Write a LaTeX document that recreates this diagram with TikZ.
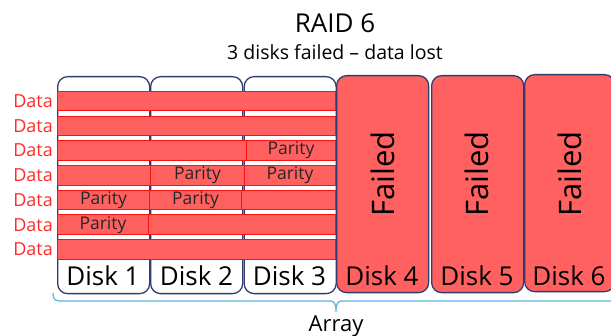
\documentclass[tikz,border=0pt]{standalone}
\usepackage{fontspec}
\setmainfont{Open Sans}
\definecolor{redfill}{HTML}{FF6161}
\definecolor{redline}{HTML}{FF1010}
\definecolor{navy}{HTML}{2F3D6E}
\definecolor{bracecol}{HTML}{5AB4E3}
\definecolor{datared}{HTML}{FF2A2A}
\begin{document}
\begin{tikzpicture}[x=1pt,y=-1pt,
  disk/.style={draw=navy, line width=1.3pt, rounded corners=10pt, minimum width=92pt, minimum height=217pt, inner sep=0pt, anchor=north west},
  okdisk/.style={disk, fill=white},
  faildisk/.style={disk, fill=redfill},
  stripe/.style={draw=redline, line width=0.9pt, fill=redfill, minimum height=19.5pt, inner sep=0pt, anchor=north west, font=\fontsize{17.5}{17.5}\selectfont, text=black!85},
  datalbl/.style={anchor=east, inner sep=0pt, text=datared, font=\fontsize{18}{18}\selectfont},
  disklbl/.style={anchor=base, inner sep=0pt, font=\fontsize{26}{26}\selectfont},
  faillbl/.style={rotate=90, inner sep=0pt, font=\fontsize{31}{31}\selectfont},
  brace/.style={draw=bracecol, line width=1.2pt}]
\useasboundingbox (0,0) rectangle (611,336);
% title
\node[anchor=base, inner sep=0pt, font=\fontsize{26}{26}\selectfont] (title) at (335,33) {RAID 6};
\node[anchor=base, inner sep=0pt, font=\fontsize{19.5}{19.5}\selectfont] (sub) at (335,60) {3 disks failed -- data lost};
% disks
\node[okdisk] (d1) at (57,76) {};
\node[okdisk] (d2) at (150,76) {};
\node[okdisk] (d3) at (243.5,76) {};
\node[faildisk] (d4) at (336,75) {};
\node[faildisk] (d5) at (431,75) {};
\node[faildisk, minimum width=90pt] (d6) at (524,74) {};
% stripes
\node[stripe, minimum width=278pt] (r1) at (57,91) {};
\node[stripe, minimum width=278pt] (r2) at (57,115.7) {};
\node[stripe, minimum width=189pt] (r3a) at (57,140.4) {};
\node[stripe, minimum width=89pt] (r3b) at (246,140.4) {Parity};
\node[stripe, minimum width=93pt] (r4a) at (57,165.1) {};
\node[stripe, minimum width=94pt] (r4b) at (150,165.1) {Parity};
\node[stripe, minimum width=91pt] (r4c) at (244,165.1) {Parity};
\node[stripe, minimum width=92pt] (r5a) at (57,189.8) {Parity};
\node[stripe, minimum width=92pt] (r5b) at (149,189.8) {Parity};
\node[stripe, minimum width=94pt] (r5c) at (241,189.8) {};
\node[stripe, minimum width=91pt] (r6a) at (57,214.5) {Parity};
\node[stripe, minimum width=187pt] (r6b) at (148,214.5) {};
\node[stripe, minimum width=278pt] (r7) at (57,239.2) {};
% data labels
\foreach \r in {r1,r2,r3a,r4a,r5a,r6a,r7}{
  \node[datalbl] (lbl\r) at ([xshift=-4pt]\r.west) {Data};
}
% disk labels
\node[disklbl] (t1) at (103,286) {Disk 1};
\node[disklbl] (t2) at (196.5,286) {Disk 2};
\node[disklbl] (t3) at (289.5,286) {Disk 3};
\node[disklbl] (t4) at (382,286) {Disk 4};
\node[disklbl] (t5) at (477,286) {Disk 5};
\node[disklbl] (t6) at (569,286) {Disk 6};
\node[faillbl] (f4) at (383,174) {Failed};
\node[faillbl] (f5) at (477,174) {Failed};
\node[faillbl] (f6) at (570,174) {Failed};
% brace
\coordinate (bl) at (53,293);
\coordinate (bm) at (336,312);
\coordinate (br) at (620,301);
\draw[brace] (bl) .. controls (53,299) and (55,301) .. (60,301) -- (330,301) .. controls (334,301) and (336,303) .. (bm)
  (bm) .. controls (336,303) and (338,301) .. (342,301) -- (br);
\node[anchor=base, inner sep=0pt, font=\fontsize{22}{22}\selectfont] (arr) at (336,332) {Array};
\end{tikzpicture}
\end{document}
